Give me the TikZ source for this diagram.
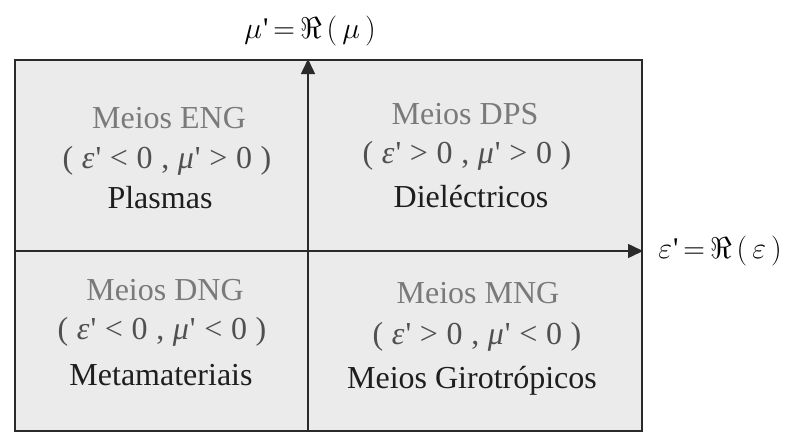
\RequirePackage{fix-cm}
\documentclass[tikz,border=0pt]{standalone}
\usepackage{fontspec}
\setmainfont{Liberation Serif}
\usetikzlibrary{arrows.meta}
\definecolor{boxfill}{HTML}{EBEBEB}
\definecolor{boxline}{HTML}{2A2A2A}
\definecolor{meiosgray}{HTML}{7A7A7A}
\definecolor{condgray}{HTML}{505050}
\definecolor{namegray}{HTML}{1E1E1E}
\newcommand{\bigfs}{\fontsize{32}{38}\selectfont}
\newcommand{\qs}{\kern1pt\textquotesingle}
\newcommand{\csp}{\hspace{0.27em}}
\newcommand{\cond}[2]{(\csp{\itshape ε}\qs\csp#1\csp0\csp,\csp{\itshape μ}\qs\csp#2\csp0\csp)}
\begin{document}
\begin{tikzpicture}[x=1pt,y=-1pt,
  lab/.style={anchor=base,inner sep=0pt,font=\bigfs},
  meios/.style={lab,text=meiosgray},
  condt/.style={lab,text=condgray},
  namet/.style={lab,text=namegray},
  axislab/.style={anchor=base,inner sep=0pt,font=\fontsize{30}{36}\selectfont},
  axis/.style={line width=1.5pt,draw=boxline,-{Triangle[length=15pt,width=14pt]}}]
\useasboundingbox (0,0) rectangle (792,432);
\node[draw=boxline,line width=2pt,fill=boxfill,minimum width=627pt,minimum height=371pt,anchor=north west,inner sep=0pt] (box) at (14,59) {};
\coordinate (o) at (308,251);
\draw[axis] (box.west |- o) -- (box.east |- o);
\draw[axis] (o |- box.south) -- (o |- box.north);
% axis labels
\node[axislab] (mulab) at (310,38) {$\mu\mbox{\qs}\,{=}\,\Re\,(\,\mu\,)$};
\node[axislab] (eplab) at (720,258) {$\varepsilon\mbox{\qs}\,{=}\,\Re\,(\,\varepsilon\,)$};
% ENG
\node[meios] (eng1) at (169,128) {Meios ENG};
\node[condt] (eng2) at (167,168) {\cond{<}{>}};
\node[namet] (eng3) at (160,208) {Plasmas};
% DPS
\node[meios] (dps1) at (465,124) {Meios DPS};
\node[condt] (dps2) at (467,163) {\cond{>}{>}};
\node[namet] (dps3) at (471,207) {Dieléctricos};
% DNG
\node[meios] (dng1) at (165,300) {Meios DNG};
\node[condt] (dng2) at (162,339) {\cond{<}{<}};
\node[namet] (dng3) at (161,385) {Metamateriais};
% MNG
\node[meios] (mng1) at (478,303) {Meios MNG};
\node[condt] (mng2) at (477,344) {\cond{>}{<}};
\node[namet] (mng3) at (472,388) {Meios Girotrópicos};
\end{tikzpicture}
\end{document}
